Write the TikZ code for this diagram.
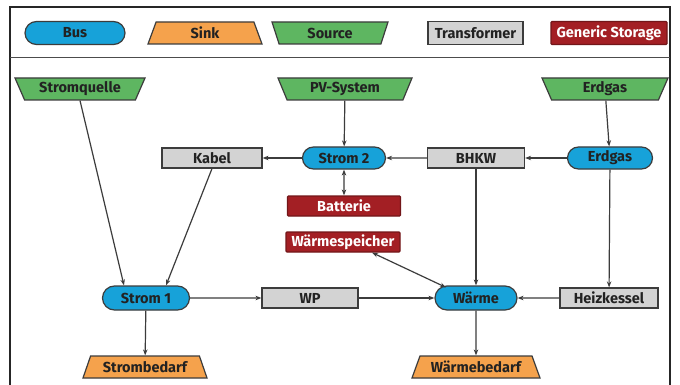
\documentclass[tikz,border=0pt]{standalone}
\usepackage{fontspec}
\setmainfont{Fira Sans}
\usetikzlibrary{shapes.geometric,shapes.misc,arrows.meta}
\definecolor{busc}{HTML}{17A2D9}
\definecolor{sinkc}{HTML}{F5A24C}
\definecolor{srcc}{HTML}{5EB661}
\definecolor{trc}{HTML}{D3D3D3}
\definecolor{stc}{HTML}{A31F24}
\definecolor{linec}{HTML}{3C3C3C}
\definecolor{txtc}{HTML}{222222}
\tikzset{
  base/.style={draw=linec, line width=1.2pt, inner sep=0pt, font=\bfseries\fontsize{14.5}{16}\selectfont, text=txtc},
  bus/.style={base, rounded rectangle, fill=busc, minimum height=23pt},
  sinkbox/.style={base, trapezium, trapezium angle=56, trapezium stretches body, fill=sinkc, minimum height=22pt},
  srcbox/.style={base, trapezium, trapezium angle=56, trapezium stretches body, shape border rotate=180, fill=srcc, minimum height=22pt},
  trbox/.style={base, rectangle, fill=trc, minimum height=20pt},
  stbox/.style={base, rectangle, fill=stc, text=white, draw=stc!70!black, rounded corners=1pt, minimum height=20pt},
  flow/.style={draw=linec, line width=1.2pt, -{Stealth[length=6pt,width=4.5pt]}},
  bflow/.style={draw=linec, line width=1.2pt, {Stealth[length=6pt,width=4.5pt]}-{Stealth[length=6pt,width=4.5pt]}},
}
\begin{document}
\begin{tikzpicture}[x=1pt,y=-1pt]
\useasboundingbox (0,0) rectangle (680,385);
\fill[white] (0,0) rectangle (680,385);
% frame
\draw[line width=1.4pt, black!85] (10,385) -- (10,7) -- (670,7) -- (670,385);
\draw[line width=1pt, black!70] (10,58) -- (670,58);
% legend
\node[bus, minimum width=100pt] (lbus) at (75,33) {Bus};
\node[sinkbox, minimum width=114pt] (lsink) at (205,33) {Sink};
\node[srcbox, minimum width=116pt] (lsrc) at (330,33) {Source};
\node[trbox, minimum width=95pt, minimum height=23pt] (ltr) at (475.5,33) {Transformer};
\node[stbox, minimum width=116pt, minimum height=23pt] (lst) at (609,33) {Generic Storage};
% nodes
\node[srcbox, minimum width=130pt] (sq) at (80,89) {Stromquelle};
\node[srcbox, minimum width=134pt] (pv) at (345,89) {PV-System};
\node[srcbox, minimum width=126pt] (eg) at (605,89) {Erdgas};
\node[trbox, minimum width=100pt] (kabel) at (212,158) {Kabel};
\node[bus, minimum width=83pt, minimum height=22pt] (s2) at (344,158) {Strom 2};
\node[trbox, minimum width=97pt] (bhkw) at (476,158) {BHKW};
\node[bus, minimum width=85pt, minimum height=22pt] (egb) at (610,158) {Erdgas};
\node[stbox, minimum width=113pt] (bat) at (344,206) {Batterie};
\node[stbox, minimum width=114pt] (ws) at (343,242) {Wärmespeicher};
\node[bus, minimum width=87pt, minimum height=24pt] (s1) at (146,298) {Strom 1};
\node[trbox, minimum width=96pt] (wp) at (310,298) {WP};
\node[bus, minimum width=82pt, minimum height=24pt] (w) at (476,298) {Wärme};
\node[trbox, minimum width=98pt] (hk) at (609,298) {Heizkessel};
\node[sinkbox, minimum width=124pt] (sb) at (145,367) {Strombedarf};
\node[sinkbox, minimum width=128pt] (wb) at (476,367) {Wärmebedarf};
% edges
\draw[flow] (sq.south) -- ([xshift=-22pt]s1.north);
\draw[flow] (kabel.south) -- ([xshift=20pt]s1.north);
\draw[flow] (pv) -- (s2);
\draw[flow] (s2) -- (kabel);
\draw[flow] (bhkw) -- (s2);
\draw[flow] (egb) -- (bhkw);
\draw[flow] (eg) -- (egb);
\draw[bflow] (s2) -- (bat);
\draw[flow] (bhkw) -- (w);
\draw[flow] (egb) -- (hk);
\draw[bflow] ([xshift=29pt]ws.south) -- ([xshift=-30pt,yshift=-2pt]w.north);
\draw[flow] (s1) -- (wp);
\draw[flow] (wp) -- (w);
\draw[flow] (hk) -- (w);
\draw[flow] (s1) -- (sb);
\draw[flow] (w) -- (wb);
\end{tikzpicture}
\end{document}
